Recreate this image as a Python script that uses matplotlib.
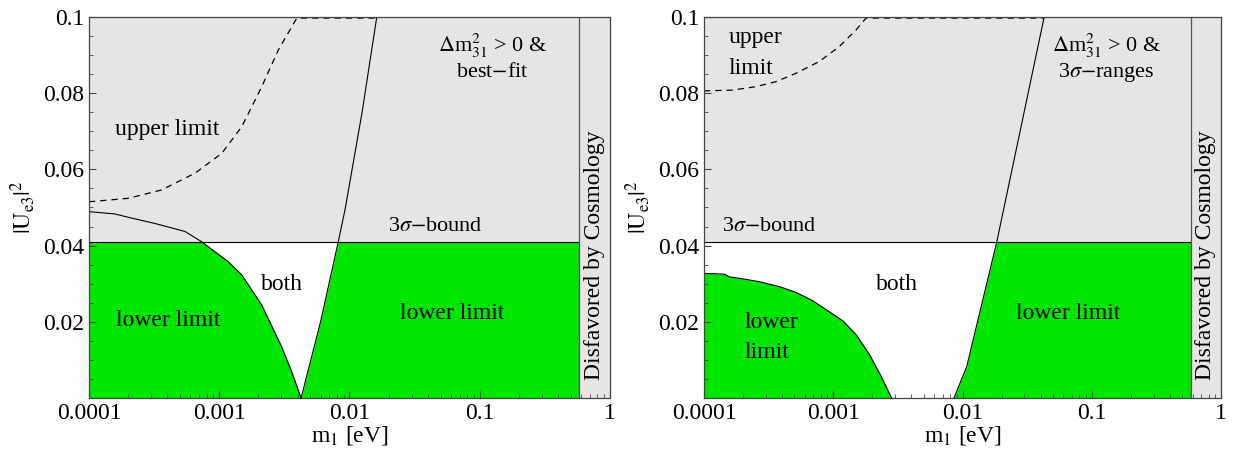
import numpy as np
import matplotlib
matplotlib.use("Agg")
import matplotlib.pyplot as plt
from matplotlib.ticker import FixedLocator, FixedFormatter, NullFormatter, LogLocator

plt.rcParams['font.family'] = 'serif'
plt.rcParams['font.serif'] = ['Liberation Serif', 'DejaVu Serif']
plt.rcParams['mathtext.fontset'] = 'stix'

green = '#00e600'
gray = '#e5e5e5'

# common bounds
bound_3s = 0.041      # 3 sigma bound on |Ue3|^2
m_cosmo = 0.58        # eV, disfavored by cosmology above this

# ---- left panel: best-fit values ----
mL_low = [1e-4, 1.58e-4, 2.13e-4, 3.21e-4, 5.46e-4, 7.33e-4, 1.17e-3, 1.49e-3, 2.12e-3, 3.01e-3, 3.60e-3, 4.25e-3]
uL_low = [0.0489, 0.0483, 0.0472, 0.0458, 0.0437, 0.0410, 0.0358, 0.0323, 0.0244, 0.0135, 0.0069, 0.0]
mL_rise = [4.25e-3, 6.0e-3, 8.2e-3, 9.23e-3, 0.0125, 0.0162]
uL_rise = [0.0, 0.020, 0.041, 0.0493, 0.075, 0.1]
mL_up = [1e-4, 2.0e-4, 3.61e-4, 6.52e-4, 1.045e-3, 1.49e-3, 2.12e-3, 2.84e-3, 3.94e-3, 0.0162]
uL_up = [0.0515, 0.0524, 0.0546, 0.059, 0.0642, 0.0712, 0.0817, 0.0913, 0.0997, 0.0997]

# ---- right panel: 3 sigma ranges ----
mR_low = [1e-4, 1.44e-4, 1.57e-4, 2.05e-4, 2.69e-4, 3.85e-4, 5.16e-4, 6.95e-4, 1.19e-3, 1.51e-3, 1.91e-3, 2.35e-3, 2.82e-3]
uR_low = [0.0327, 0.0325, 0.0318, 0.0312, 0.0305, 0.0292, 0.0277, 0.0255, 0.0202, 0.0165, 0.0113, 0.0056, 0.0]
mR_rise = [8.57e-3, 0.01074, 0.01837, 0.0427]
uR_rise = [0.0, 0.0082, 0.041, 0.1]
mR_up = [1e-4, 1.66e-4, 2.51e-4, 3.59e-4, 5.13e-4, 7.78e-4, 1.11e-3, 1.50e-3, 1.79e-3, 0.0427]
uR_up = [0.0806, 0.0808, 0.0817, 0.0830, 0.0852, 0.0883, 0.0922, 0.0966, 0.0997, 0.0997]

xticks = [1e-4, 1e-3, 1e-2, 1e-1, 1]
xticklabels = ['0.0001', '0.001', '0.01', '0.1', '1']
yticks = [0.02, 0.04, 0.06, 0.08, 0.1]
yticklabels = ['0.02', '0.04', '0.06', '0.08', '0.1']

fs = 17
fs2 = 16

fig = plt.figure(figsize=(12.36, 4.58), dpi=100)
axL = fig.add_axes([0.072, 0.131, 0.4215, 0.832])
axR = fig.add_axes([0.5696, 0.131, 0.4185, 0.832])


def panel(ax, m_low, u_low, m_rise, u_rise, m_up, u_up):
    ax.set_xscale('log')
    ax.set_xlim(1e-4, 1)
    ax.set_ylim(0, 0.1)
    # lower limit regions
    ax.fill_between(m_low, 0, u_low, color=green, lw=0, zorder=1)
    ax.fill_betweenx(u_rise, m_rise, m_cosmo, color=green, lw=0, zorder=1)
    # excluded by 3 sigma bound
    ax.axhspan(bound_3s, 0.1, color=gray, lw=0, zorder=2)
    ax.plot(m_low, u_low, color='k', lw=0.8, zorder=3)
    ax.plot(m_rise, u_rise, color='k', lw=0.8, zorder=3)
    ax.plot(m_up, u_up, color='k', lw=0.9, ls=(0, (5, 4)), zorder=3)
    ax.plot([1e-4, m_cosmo], [bound_3s, bound_3s], color='k', lw=0.8, zorder=3)
    # cosmology
    ax.axvspan(m_cosmo, 1, color=gray, lw=0, zorder=4)
    ax.axvline(m_cosmo, color='#555555', lw=0.9, zorder=5)
    ax.text(np.sqrt(m_cosmo), 0.0375, 'Disfavored by Cosmology', rotation=90,
            ha='center', va='center', fontsize=fs, zorder=6)

    ax.xaxis.set_major_locator(FixedLocator(xticks))
    ax.xaxis.set_major_formatter(FixedFormatter(xticklabels))
    ax.xaxis.set_minor_locator(LogLocator(base=10, subs=np.arange(2, 10)))
    ax.xaxis.set_minor_formatter(NullFormatter())
    ax.set_yticks(yticks)
    ax.set_yticklabels(yticklabels)
    ax.set_yticks(np.arange(0.005, 0.1, 0.005), minor=True)
    ax.tick_params(which='both', direction='in', top=False, right=False,
                   labelsize=fs, color='#444444')
    ax.tick_params(which='major', length=5, width=0.8)
    ax.tick_params(which='minor', length=3, width=0.6)
    ax.xaxis.set_zorder(9)
    ax.yaxis.set_zorder(9)
    for s in ax.spines.values():
        s.set_color('#444444')
        s.set_linewidth(0.9)
        s.set_zorder(8)
    ax.set_xlabel('m$_1$ [eV]', fontsize=fs, labelpad=0)
    ax.set_ylabel(r'$|\mathrm{U}_{\mathrm{e3}}|^2$', fontsize=fs, labelpad=4)


panel(axL, mL_low, uL_low, mL_rise, uL_rise, mL_up, uL_up)
panel(axR, mR_low, uR_low, mR_rise, uR_rise, mR_up, uR_up)

# left annotations
axL.text(0.0004, 0.0705, 'upper limit', fontsize=fs, ha='center', va='center', zorder=6)
axL.text(0.125, 0.0925, r'$\Delta$m$^2_{31}$ > 0 &', fontsize=fs2, ha='center', va='center', zorder=6)
axL.text(0.125, 0.0853, 'best$-$fit', fontsize=fs2, ha='center', va='center', zorder=6)
axL.text(0.046, 0.0449, r'3$\sigma$$-$bound', fontsize=fs2, ha='center', va='center', zorder=6)
axL.text(0.00303, 0.0299, 'both', fontsize=fs, ha='center', va='center', zorder=6)
axL.text(0.000405, 0.0203, 'lower limit', fontsize=fs, ha='center', va='center', zorder=6)
axL.text(0.062, 0.0222, 'lower limit', fontsize=fs, ha='center', va='center', zorder=6)

# right annotations
axR.text(0.000155, 0.0945, 'upper', fontsize=fs, ha='left', va='center', zorder=6)
axR.text(0.000155, 0.0866, 'limit', fontsize=fs, ha='left', va='center', zorder=6)
axR.text(0.13, 0.0925, r'$\Delta$m$^2_{31}$ > 0 &', fontsize=fs2, ha='center', va='center', zorder=6)
axR.text(0.13, 0.0853, r'3$\sigma$$-$ranges', fontsize=fs2, ha='center', va='center', zorder=6)
axR.text(0.00032, 0.0449, r'3$\sigma$$-$bound', fontsize=fs2, ha='center', va='center', zorder=6)
axR.text(0.0031, 0.0299, 'both', fontsize=fs, ha='center', va='center', zorder=6)
axR.text(0.000204, 0.0198, 'lower', fontsize=fs, ha='left', va='center', zorder=6)
axR.text(0.000204, 0.0120, 'limit', fontsize=fs, ha='left', va='center', zorder=6)
axR.text(0.065, 0.0222, 'lower limit', fontsize=fs, ha='center', va='center', zorder=6)

fig.savefig('out.png', dpi=100)
